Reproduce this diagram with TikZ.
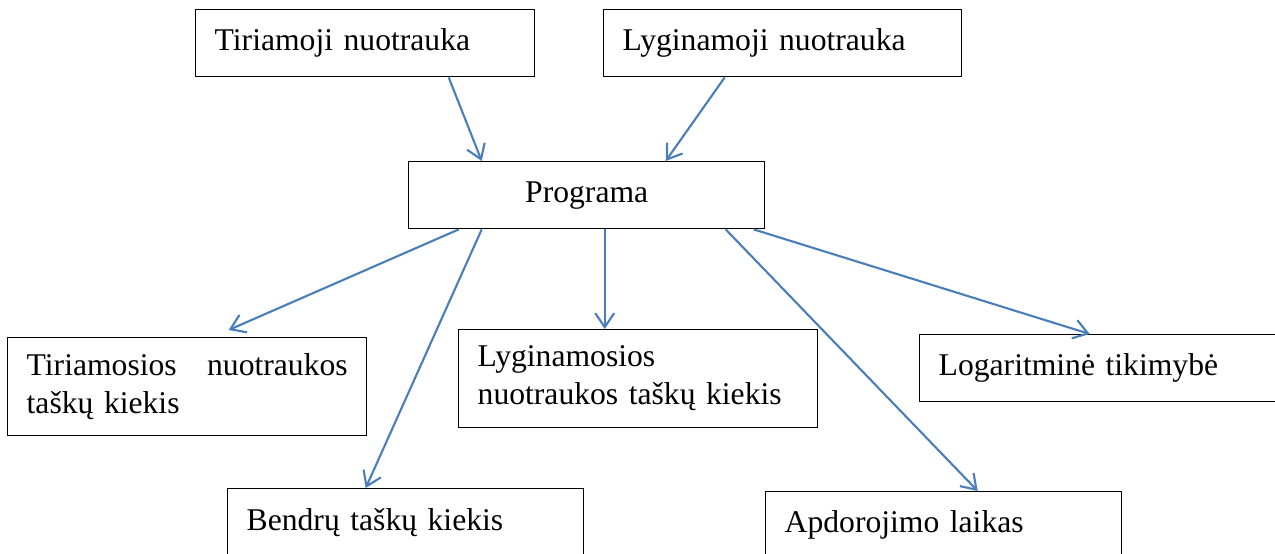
\documentclass[tikz,border=0pt]{standalone}
\usepackage{fontspec}
\setmainfont{Liberation Serif}
\usetikzlibrary{arrows.meta}
\definecolor{arrowblue}{RGB}{74,126,187}
\tikzset{
  box/.style = {draw=black, line width=0.8pt, anchor=north west, inner xsep=0.38cm, inner ysep=0pt, font=\fontsize{18}{21.6}\selectfont},
  box_l/.style = {box, align=left, text width=#1, minimum height=1.34cm},
  box_l/.default = 6.40cm,
  box_2/.style = {box_l=6.42cm, minimum height=1.95cm},
  box_c/.style = {box, align=center, text width=6.36cm, minimum height=1.34cm},
  arr/.style = {draw=arrowblue, line width=1.2pt, -{Straight Barb[length=0.28cm,width=0.38cm]}}
}
\begin{document}
\begin{tikzpicture}
\useasboundingbox (0,0) rectangle (25.5,-11.06);
\node [box_l=6.02cm] (tirN) at (3.90,-0.18) {Tiriamoji nuotrauka};
\node [box_l] (lygN) at (12.06,-0.18) {Lyginamoji nuotrauka};
\node [box_c] (prog) at (8.16,-3.22) {Programa};
\node [box_2] (tirK) at (0.14,-6.74) {Tiriamosios\hfill nuotraukos\\taškų kiekis};
\node [box_2] (lygK) at (9.16,-6.58) {Lyginamosios\\nuotraukos taškų kiekis};
\node [box_l] (logT) at (18.38,-6.68) {Logaritminė tikimybė};
\node [box_l=6.36cm] (bendK) at (4.54,-9.76) {Bendrų taškų kiekis};
\node [box_l=6.36cm] (apdL) at (15.30,-9.82) {Apdorojimo laikas};

\draw [arr] ([xshift=1.67cm]tirN.south) -- ([xshift=-2.10cm]prog.north);
\draw [arr] ([xshift=-1.16cm]lygN.south) -- ([xshift=1.58cm]prog.north);
\draw [arr] ([xshift=-2.56cm]prog.south) -- ([xshift=0.83cm,yshift=0.14cm]tirK.north);
\draw [arr] ([xshift=-2.10cm]prog.south) -- ([xshift=-0.80cm]bendK.north);
\draw [arr] ([xshift=0.36cm]prog.south) -- ([xshift=-0.67cm]lygK.north);
\draw [arr] ([xshift=2.78cm]prog.south) -- ([xshift=0.68cm]apdL.north);
\draw [arr] ([xshift=3.34cm]prog.south) -- ([xshift=-0.18cm]logT.north);
\end{tikzpicture}
\end{document}
